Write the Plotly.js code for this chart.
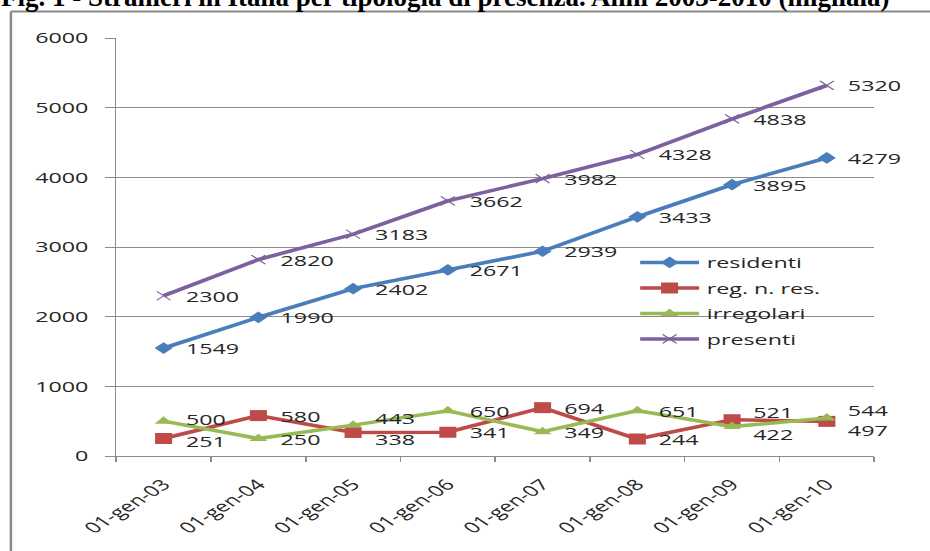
<!DOCTYPE html>
<html>
<head>
<meta charset="utf-8">
<script src="https://cdn.plot.ly/plotly-3.0.1.min.js"></script>
<style>
  html, body { margin: 0; padding: 0; background: #ffffff; overflow: hidden; }
  #wrap { position: relative; width: 930px; height: 551px; overflow: hidden; }
  #title { position: absolute; left: 1px; top: -16px; font-family: "Liberation Serif", "Times New Roman", serif;
           font-weight: bold; font-size: 27px; line-height: 1; white-space: nowrap; color: #000; z-index: 2; }
  #chart { position: absolute; left: 0; top: 0; width: 600px; height: 551px;
           transform: scaleX(1.55); transform-origin: 0 0; }
</style>
</head>
<body>
<div id="wrap">
  <div id="title">Fig. 1 - Stranieri in Italia per tipologia di presenza. Anni 2003-2010 (migliaia)</div>
  <div id="chart"></div>
</div>
<script>
const categories = ['01-gen-03','01-gen-04','01-gen-05','01-gen-06','01-gen-07','01-gen-08','01-gen-09','01-gen-10'];
const residenti  = [1549, 1990, 2402, 2671, 2939, 3433, 3895, 4279];
const regNRes    = [251, 580, 338, 341, 694, 244, 521, 497];
const irregolari = [500, 250, 443, 650, 349, 651, 422, 544];
const presenti   = [2300, 2820, 3183, 3662, 3982, 4328, 4838, 5320];
const seriesNames = ['residenti', 'reg. n. res.', 'irregolari', 'presenti'];
const yTicks = [0, 1000, 2000, 3000, 4000, 5000, 6000];

// data-label vertical nudges in px (style only), as in the reference where labels were moved apart
const nudgeRes  = [0, 0, 0, 0, 0, 0, 0, 0];
const nudgeReg  = [-2, 0, -7, 0, 0, 0, 8, -9];
const nudgeIrr  = [2, 0, 7, 0, 0, 0, -7, 8];
const nudgePres = [0, 0, 0, 0, 0, 0, 0, 0];

const FONT = 'Open Sans, Liberation Sans, sans-serif';
const TXT = '#262626';
const GRID = '#8c8c8c';

function mk(name, vals, color, symbol, msize, mline) {
  return {
    type: 'scatter', mode: 'lines+markers', name: name, legendgroup: name,
    x: categories, y: vals,
    line: { color: color, width: 3.5 },
    marker: Object.assign({ symbol: symbol, size: msize, color: color }, mline || {}),
    cliponaxis: false, hoverinfo: 'skip'
  };
}

function labels(vals, nudges) {
  return vals.map((v, i) => ({
    x: categories[i], y: v, xref: 'x', yref: 'y', text: String(v),
    showarrow: false, xanchor: 'left', yanchor: 'middle',
    xshift: 14, yshift: nudges[i], borderpad: 0, borderwidth: 0,
    font: { family: FONT, size: 15, color: TXT }
  }));
}

const data = [
  mk(seriesNames[0], residenti, '#4A7EBB', 'diamond', 9),
  mk(seriesNames[1], regNRes, '#BE4B48', 'square', 11),
  mk(seriesNames[2], irregolari, '#98B954', 'triangle-up', 10),
  mk(seriesNames[3], presenti, '#7D60A0', 'x-thin-open', 9, { line: { color: '#7D60A0', width: 1 } })
];

const layout = {
  width: 600, height: 551,
  margin: { l: 75.3, r: 35.9, t: 38.3, b: 94.5, pad: 0 },
  paper_bgcolor: '#ffffff', plot_bgcolor: '#ffffff',
  font: { family: FONT, size: 15, color: TXT },
  showlegend: true,
  legend: {
    x: 0.681, y: 0.502, xanchor: 'left', yanchor: 'top',
    bgcolor: 'rgba(0,0,0,0)', font: { family: FONT, size: 15, color: TXT },
    tracegroupgap: 3, traceorder: 'grouped', itemwidth: 38
  },
  xaxis: {
    type: 'category', categoryorder: 'array', categoryarray: categories,
    range: [-0.5, 7.5], showgrid: false, zeroline: false,
    showline: true, linecolor: GRID, linewidth: 1,
    ticks: 'outside', ticklen: 5, tickcolor: GRID, tickwidth: 1, tickson: 'boundaries',
    tickangle: -44, ticklabelstandoff: 13,
    tickfont: { family: FONT, size: 15, color: TXT }, fixedrange: true
  },
  yaxis: {
    range: [0, 6000], tickvals: yTicks, ticktext: yTicks.map(String),
    showgrid: true, gridcolor: GRID, gridwidth: 1, zeroline: false,
    showline: true, linecolor: GRID, linewidth: 1,
    ticks: 'outside', ticklen: 6, tickcolor: GRID, tickwidth: 1,
    ticklabelstandoff: 8,
    tickfont: { family: FONT, size: 15, color: TXT }, fixedrange: true
  },
  annotations: [].concat(
    labels(residenti, nudgeRes),
    labels(regNRes, nudgeReg),
    labels(irregolari, nudgeIrr),
    labels(presenti, nudgePres)
  ),
  shapes: [
    { type: 'line', xref: 'paper', yref: 'paper', x0: -0.139, x1: 1.2, y0: 1.0636, y1: 1.0636,
      line: { color: '#8a8a8a', width: 2 } },
    { type: 'line', xref: 'paper', yref: 'paper', x0: -0.139, x1: -0.139, y0: 1.0636, y1: -0.4,
      line: { color: '#8a8a8a', width: 1.6 } }
  ]
};

Plotly.newPlot('chart', data, layout, { displayModeBar: false, staticPlot: true });
</script>
</body>
</html>
